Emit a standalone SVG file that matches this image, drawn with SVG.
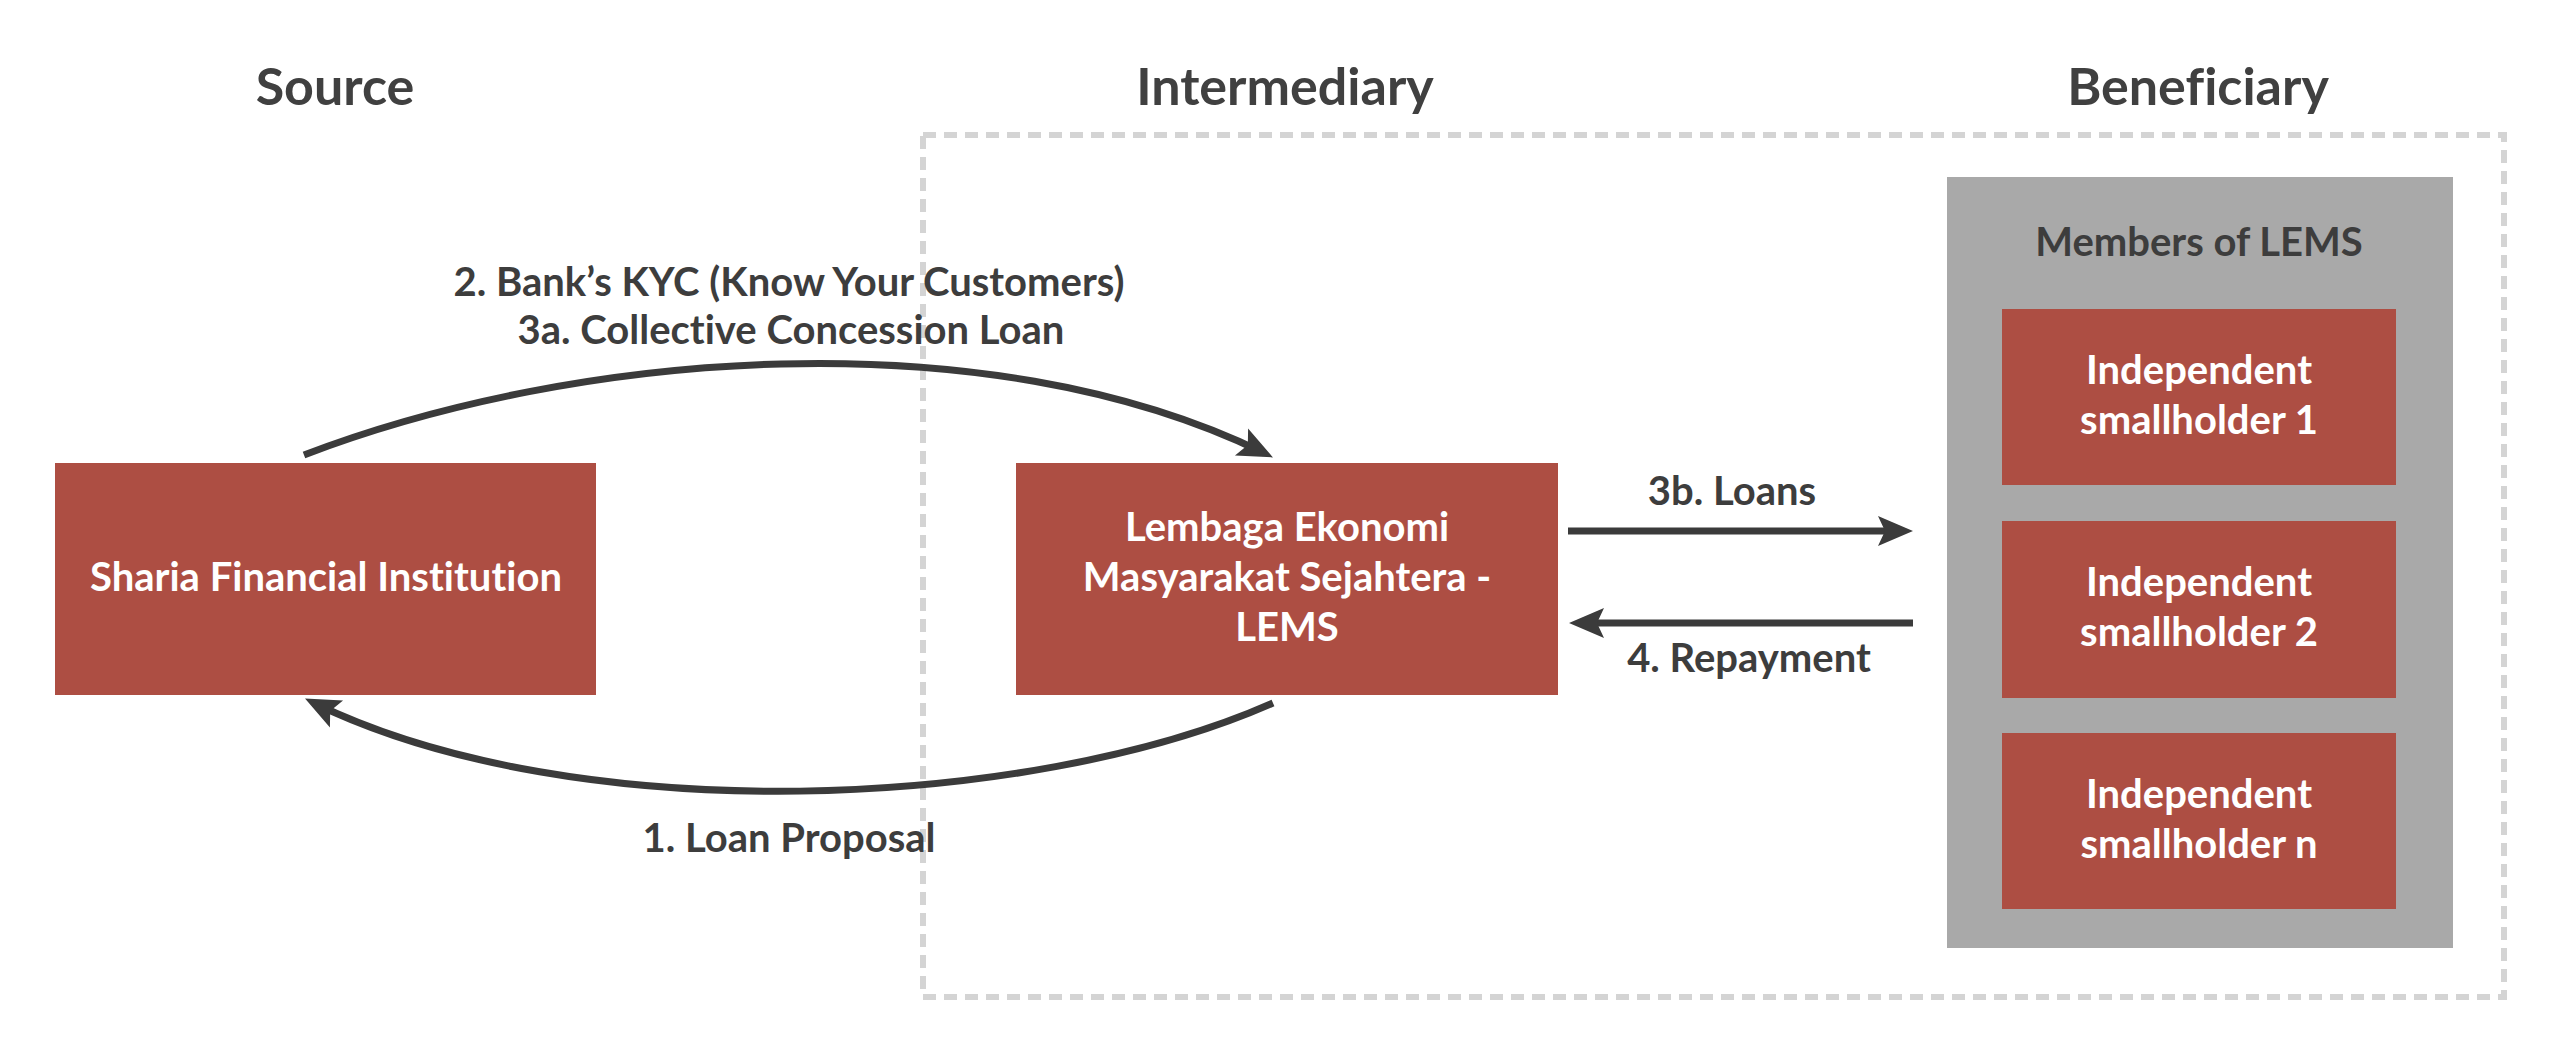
<svg xmlns="http://www.w3.org/2000/svg" width="2560" height="1047" viewBox="0 0 2560 1047">
<defs>
<style>
text{font-variant-ligatures:none}
.title{font-family:Lato,"Open Sans","Liberation Sans",sans-serif;font-weight:700;font-size:52px;fill:#404040;text-anchor:middle}
.lbl{font-family:Lato,"Open Sans","Liberation Sans",sans-serif;font-weight:700;font-size:40px;fill:#3d3d3d;text-anchor:middle}
.wt{font-family:Lato,"Open Sans","Liberation Sans",sans-serif;font-weight:700;font-size:40px;fill:#ffffff;text-anchor:middle}
.node{fill:#ad4e43}
.conn{fill:none;stroke:#3b3b3b;stroke-width:7;marker-end:url(#ah)}
</style>
<marker id="ah" viewBox="-30 -16 44 32" refX="0" refY="0" markerWidth="44" markerHeight="32" markerUnits="userSpaceOnUse" orient="auto" overflow="visible">
<path d="M10,0 L-25,-15 L-18,0 L-25,15 Z" fill="#3b3b3b"/>
</marker>
</defs>
<rect width="2560" height="1047" fill="#ffffff"/>
<g id="titles">
<text class="title" x="335" y="105">Source</text>
<text class="title" x="1285" y="105">Intermediary</text>
<text class="title" x="2198" y="105">Beneficiary</text>
</g>
<g id="intermediary-frame">
<rect x="923" y="135" width="1581" height="862" fill="none" stroke="#d4d4d4" stroke-width="6" stroke-dasharray="13 8"/>
</g>
<g id="sharia">
<rect class="node" x="55" y="463" width="541" height="232"/>
<text class="wt" x="326" y="591">Sharia Financial Institution</text>
</g>
<g id="lems">
<rect class="node" x="1016" y="463" width="542" height="232"/>
<text class="wt" x="1287" y="541">Lembaga Ekonomi</text>
<text class="wt" x="1287" y="591">Masyarakat Sejahtera -</text>
<text class="wt" x="1287" y="641">LEMS</text>
</g>
<g id="members">
<rect x="1947" y="177" width="506" height="771" fill="#a9a9a9"/>
<text class="lbl" x="2199" y="256">Members of LEMS</text>
</g>
<g id="smallholder1">
<rect class="node" x="2002" y="309" width="394" height="176"/>
<text class="wt" x="2199" y="384">Independent</text>
<text class="wt" x="2199" y="434">smallholder 1</text>
</g>
<g id="smallholder2">
<rect class="node" x="2002" y="521" width="394" height="177"/>
<text class="wt" x="2199" y="596">Independent</text>
<text class="wt" x="2199" y="646">smallholder 2</text>
</g>
<g id="smallholdern">
<rect class="node" x="2002" y="733" width="394" height="176"/>
<text class="wt" x="2199" y="808">Independent</text>
<text class="wt" x="2199" y="858">smallholder n</text>
</g>
<g id="connectors">
<path class="conn" d="M304,455 C575,351 985,317 1264,453"/>
<path class="conn" d="M1273,703 C1029,811 575,830 314,703"/>
<path class="conn" d="M1568,531 H1903"/>
<path class="conn" d="M1913,623 H1579"/>
<text class="lbl" x="789" y="296">2. Bank’s KYC (Know Your Customers)</text>
<text class="lbl" x="791" y="344">3a. Collective Concession Loan</text>
<text class="lbl" x="789" y="852">1. Loan Proposal</text>
<text class="lbl" x="1732" y="505">3b. Loans</text>
<text class="lbl" x="1749" y="672">4. Repayment</text>
</g>
</svg>
